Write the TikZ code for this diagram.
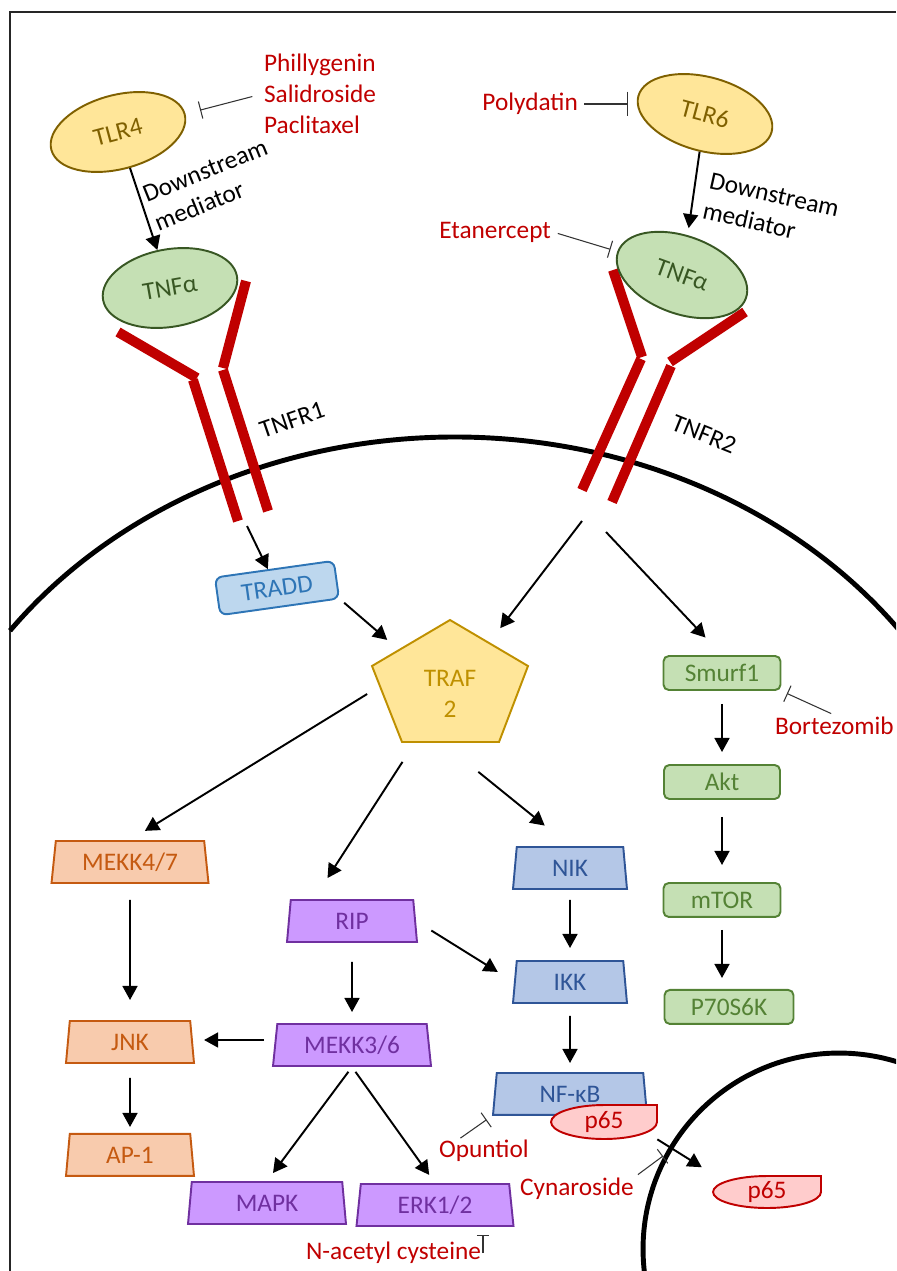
\documentclass[tikz,border=0pt]{standalone}
\usepackage{fontspec}
\setmainfont{Carlito}
\usetikzlibrary{positioning, arrows.meta, shapes.geometric, calc}

\definecolor{drugred}{HTML}{C00000}
\definecolor{tlrfill}{HTML}{FFE699}
\definecolor{tlrline}{HTML}{7F6000}
\definecolor{trafline}{HTML}{BF9000}
\definecolor{tnffill}{HTML}{C5E0B4}
\definecolor{tnfline}{HTML}{385723}
\definecolor{traddfill}{HTML}{BDD7EE}
\definecolor{traddline}{HTML}{2E75B6}
\definecolor{orfill}{HTML}{F8CBAD}
\definecolor{orline}{HTML}{C55A11}
\definecolor{pufill}{HTML}{CC99FF}
\definecolor{puline}{HTML}{7030A0}
\definecolor{blfill}{HTML}{B4C7E7}
\definecolor{blline}{HTML}{2F5597}
\definecolor{grline}{HTML}{548235}
\definecolor{pfill}{HTML}{FFCCCC}

\tikzset{
  arr/.style={-{Triangle[length=8pt,width=8.5pt]}, line width=1.1pt},
  inh/.style={-{Bar[width=10pt]}, line width=0.6pt, draw=black!80},
  drug/.style={text=drugred, inner sep=1pt, align=left},
  lbl/.style={inner sep=1pt, align=left},
  tlr/.style={ellipse, draw=tlrline, fill=tlrfill, text=tlrline, line width=1.1pt,
    minimum width=2.76cm, minimum height=1.48cm, inner sep=0pt},
  tnf/.style={ellipse, draw=tnfline, fill=tnffill, text=tnfline, line width=1.1pt,
    minimum width=2.72cm, minimum height=1.55cm, inner sep=0pt},
  receptor/.style={draw=drugred, line width=5.7pt},
  adaptor/.style={rectangle, rounded corners=4pt, draw=traddline, fill=traddfill,
    text=traddline, line width=1.1pt, minimum width=2.4cm, minimum height=0.76cm},
  kinase/.style={trapezium, trapezium angle=77, trapezium stretches body,
    minimum height=0.84cm, inner sep=0pt, line width=1.1pt},
  orangek/.style={kinase, draw=orline, fill=orfill, text=orline},
  purplek/.style={kinase, draw=puline, fill=pufill, text=puline},
  bluek/.style={kinase, draw=blline, fill=blfill, text=blline},
  greenbox/.style={rectangle, rounded corners=3pt, draw=grline, fill=tnffill,
    text=grline, line width=1.1pt, minimum width=2.34cm, minimum height=0.68cm},
  trafshape/.style={draw=trafline, fill=tlrfill, line width=1.1pt},
  traftext/.style={circle, minimum size=3.3cm, inner sep=0pt, text=trafline, align=center},
  pcoat/.style={draw=drugred, fill=pfill, line width=1.1pt},
  ptext/.style={minimum width=2.12cm, minimum height=0.68cm, inner sep=0pt, text=drugred},
  membrane/.style={line width=2.8pt}
}

\begin{document}
\begin{tikzpicture}[x=0.02cm, y=-0.02cm, node distance=2cm, on grid,
    font=\fontsize{14.4}{17.5}\selectfont]
\useasboundingbox (0,0) rectangle (896,1271);
\clip (0,0) rectangle (896,1271);

\draw[line width=1.3pt, black!85] (896,12) -- (10,12) -- (10,1271);
\draw[membrane] (10,630.7) arc[start angle=144, end angle=36, x radius=11cm, y radius=9.4cm];
\draw[membrane] (839,1249) circle[radius=3.92cm];

% receptors
\draw[receptor] (118,332) -- (197,378);
\draw[receptor] (193,380) -- (238,521);
\draw[receptor] (246,281) -- (223,368);
\draw[receptor] (223,370) -- (268,511);
\draw[receptor] (613,270) -- (642,357);
\draw[receptor] (641,359) -- (582,490);
\draw[receptor] (745,312) -- (670,362);
\draw[receptor] (671,366) -- (612,502);
\coordinate (r1end) at (247,526);
\coordinate (r2a) at (582,521);
\coordinate (r2b) at (606,532);
\node[lbl, rotate=19] (tnfr1) at (292,420) {TNFR1};
\node[lbl, rotate=-22] (tnfr2) at (704,434) {TNFR2};

\node[tlr, rotate=15] (tlr4) at (118,132) {TLR4};
\node[tlr, rotate=-15] (tlr6) at (705,114) {TLR6};
\node[tnf, rotate=10] (tnfa1) at (170,288) {TNFα};
\node[tnf, rotate=-20] (tnfa2) at (682,275) {TNFα};
\node[lbl, rotate=22] (dm1) at (211,185) {Downstream\\mediator};
\node[lbl, rotate=-12.5] (dm2) at (771,210) {Downstream\\mediator};

\node[drug, anchor=west] (tlrdrugs) at (262,94) {Phillygenin\\Salidroside\\Paclitaxel};
\node[drug, anchor=east] (polyd) at (580,104) {Polydatin};
\node[drug, anchor=east] (etan) at (553,232) {Etanercept};
\node[drug, anchor=west] (borte) at (773,726) {Bortezomib};
\node[drug, anchor=west] (opun) at (437,1151) {Opuntiol};
\node[drug, anchor=west] (cyna) at (518,1189) {Cynaroside};
\node[drug, anchor=west] (nac) at (304,1253) {N-acetyl cysteine};
\coordinate (nucgate) at (663,1156);

\node[adaptor, rotate=8] (tradd) at (277,588) {TRADD};
\filldraw[trafshape] (450,620) -- (528,666) -- (499,742) -- (402,742) -- (372,666) -- cycle;
\node[traftext] (traf) at (450,694) {TRAF\\2};

\node[greenbox] (smurf) at (722,673) {Smurf1};
\node[greenbox, minimum width=2.32cm, below=2.18cm of smurf] (akt) {Akt};
\node[greenbox, below=2.36cm of akt] (mtor) {mTOR};
\node[greenbox, minimum width=2.58cm, below=2.14cm of mtor, xshift=0.14cm] (p70) {P70S6K};

\node[orangek, minimum width=3.14cm] (mekk47) at (130,862) {MEKK4/7};
\node[orangek, minimum width=2.56cm, below=3.6cm of mekk47] (jnk) {JNK};
\node[orangek, minimum width=2.56cm, below=2.26cm of jnk] (ap1) {AP-1};
\node[purplek, minimum width=2.6cm] (rip) at (352,921) {RIP};
\node[purplek, minimum width=3.16cm, below=2.48cm of rip] (mekk36) {MEKK3/6};
\node[purplek, minimum width=3.16cm] (mapk) at (267,1203) {MAPK};
\node[purplek, minimum width=3.14cm] (erk) at (435,1205) {ERK1/2};
\node[bluek, minimum width=2.28cm] (nik) at (570,868) {NIK};
\node[bluek, minimum width=2.28cm, below=2.28cm of nik] (ikk) {IKK};
\node[bluek, minimum width=3.08cm, below=2.24cm of ikk] (nfkb) {NF-κB};

\filldraw[pcoat] (657,1105) -- (657,1122) arc[start angle=0, end angle=-270, x radius=1.06cm, y radius=0.34cm] -- cycle;
\node[ptext] (p65a) at (604,1122) {p65};
\filldraw[pcoat] (821,1176) -- (821,1192) arc[start angle=0, end angle=-270, x radius=1.08cm, y radius=0.32cm] -- cycle;
\node[ptext] (p65b) at (767,1192) {p65};

\draw[arr] (tlr4) -- (tnfa1);
\draw[arr, shorten >=4pt] (tlr6) -- (tnfa2);
\draw[arr] (r1end) -- (tradd);
\draw[arr, shorten <=3pt] (tradd.south east) -- (traf);
\draw[arr] (r2a) -- (traf);
\draw[arr, shorten >=0.48cm] (r2b) -- (smurf.north);
\draw[arr, shorten >=0.35cm] (traf.west) -- (mekk47.north);
\draw[arr, shorten >=0.5cm] (traf.235) -- (rip.150);
\draw[arr, shorten >=0.65cm] (traf.290) -- (nik.north);
\draw[arr, shorten <=0.32cm, shorten >=0.4cm] (mekk47) -- (jnk);
\draw[arr, shorten <=0.28cm, shorten >=0.12cm] (jnk) -- (ap1);
\draw[arr, shorten <=0.2cm, shorten >=0.22cm] ([yshift=0.1cm]mekk36.west) -- ([yshift=0.1cm]mekk36.west -| jnk.east);
\draw[arr, shorten <=0.38cm, shorten >=0.22cm] (rip) -- (mekk36);
\draw[arr, shorten <=0.12cm, shorten >=0.2cm] (mekk36.south) -- (mapk.north);
\draw[arr, shorten <=0.12cm, shorten >=0.2cm] (mekk36.south) -- (erk.north);
\draw[arr, shorten <=0.36cm, shorten >=0.38cm] (rip.east) -- (ikk.west);
\draw[arr, shorten <=0.2cm, shorten >=0.24cm] (nik) -- (ikk);
\draw[arr, shorten <=0.24cm, shorten >=0.18cm] (ikk) -- (nfkb);
\draw[arr, shorten <=0.26cm, shorten >=0.24cm] (smurf) -- (akt);
\draw[arr, shorten <=0.34cm, shorten >=0.34cm] (akt) -- (mtor);
\draw[arr, shorten <=0.24cm, shorten >=0.22cm] (mtor.south) -- (mtor.south |- p70.north);
\draw[arr, shorten >=0.28cm] (p65a.south east) -- (p65b.north west);

\draw[inh, shorten <=0.2cm, shorten >=0.3cm] (tlrdrugs.west) -- (tlr4.east);
\draw[inh, -{Bar[width=14pt]}, shorten <=0.08cm, shorten >=0.18cm] (polyd.east) -- (polyd.east -| tlr6.west);
\draw[inh, shorten <=0.1cm, shorten >=0.14cm] (etan.east) -- (tnfa2.west);
\draw[inh, shorten <=2pt, shorten >=0.12cm] (borte.north) -- (smurf.south east);
\draw[inh, shorten >=0.13cm] ($(opun.north west)!0.25!(opun.north east)$) -- (nfkb.bottom left corner);
\draw[inh, shorten <=0.05cm] (cyna.north east) -- (nucgate);
\draw[inh, -{Bar[width=7pt]}, shorten >=0.16cm] (nac.east) -- (nac.east |- erk.south);
\end{tikzpicture}
\end{document}
